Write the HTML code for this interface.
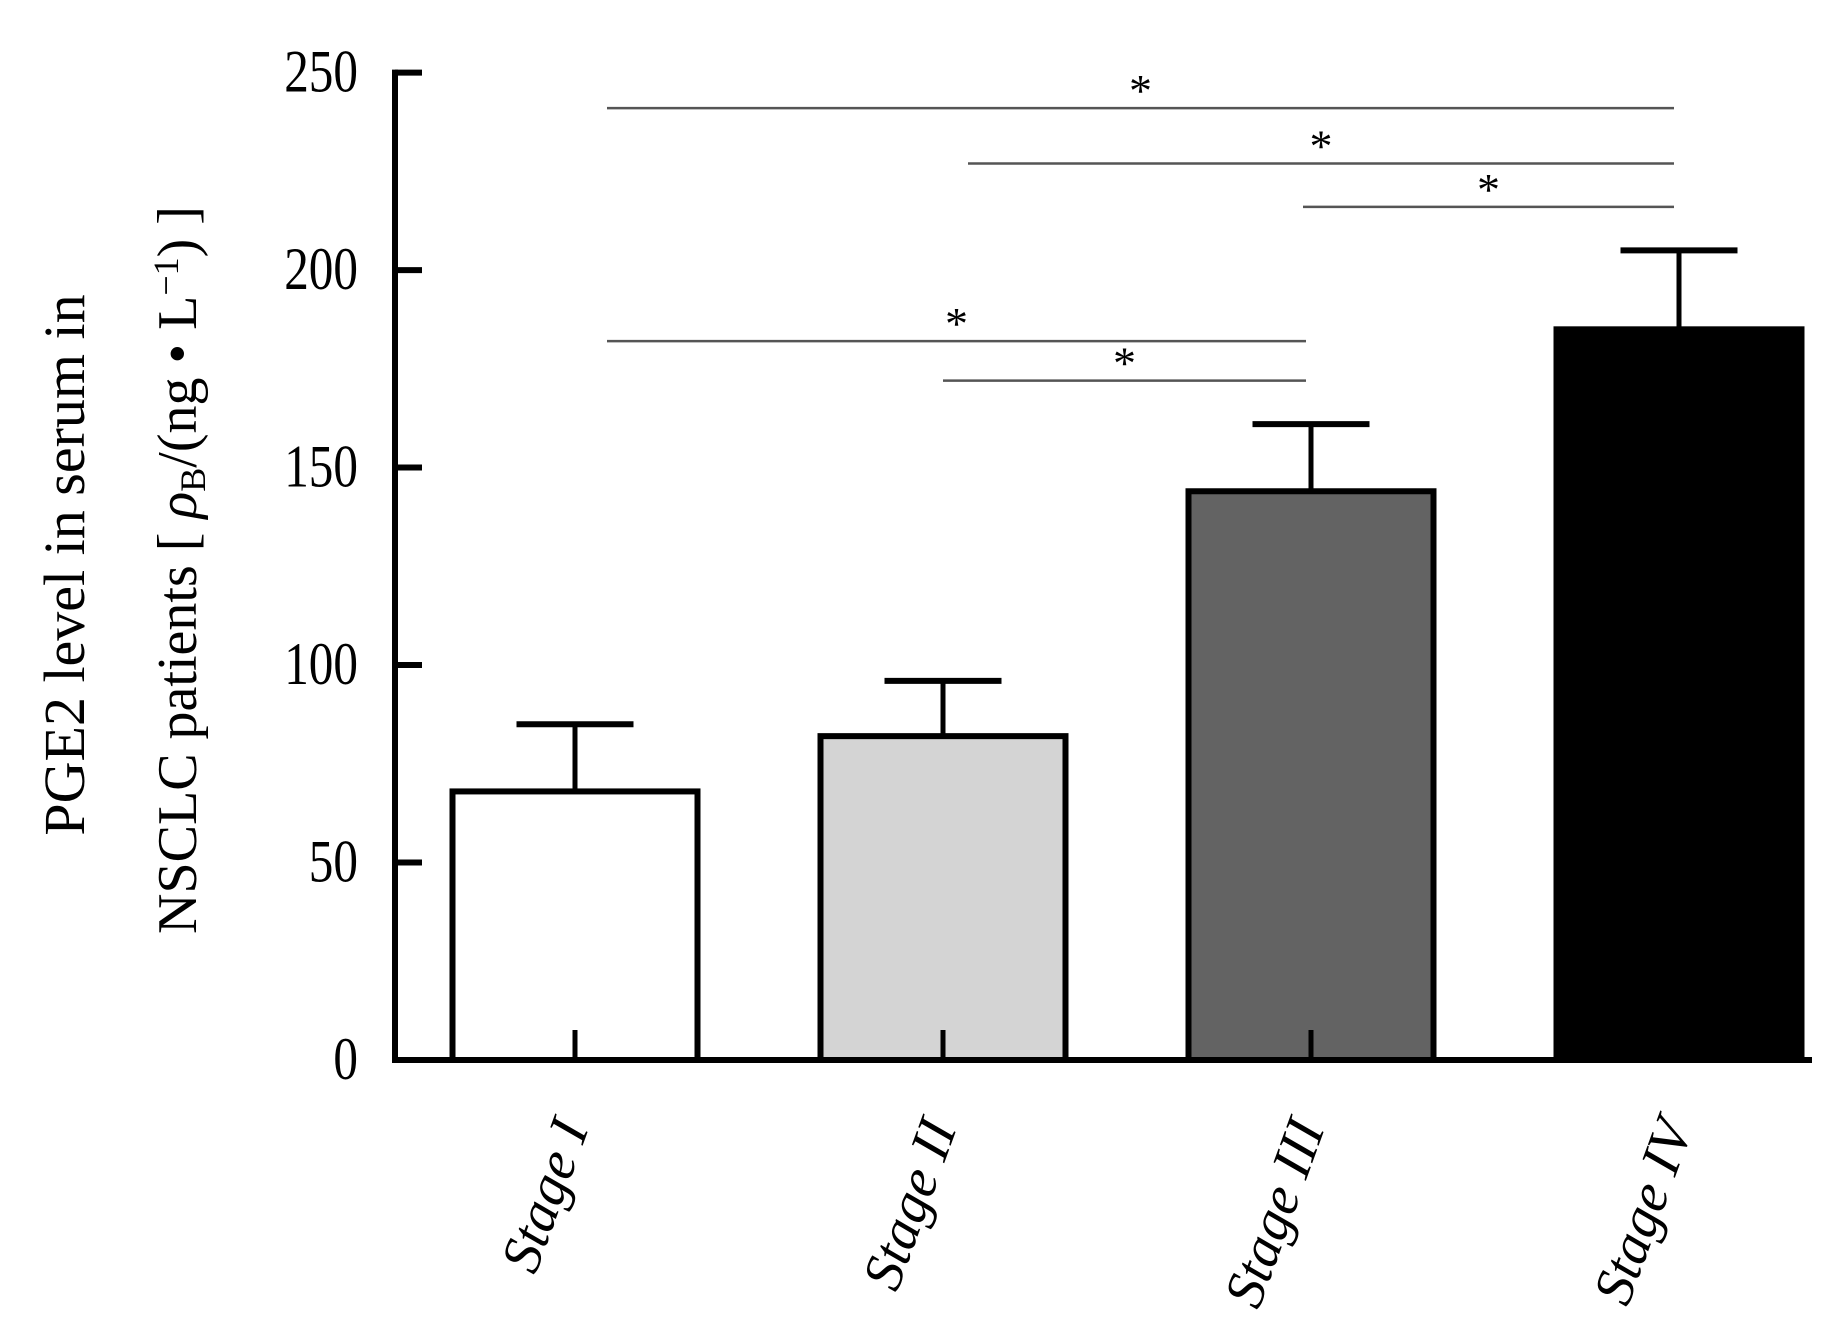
<!DOCTYPE html>
<html><head><meta charset="utf-8"><style>
html,body{margin:0;padding:0;background:#fff}
svg{display:block}
text{font-family:"Liberation Serif","Noto Serif CJK SC",serif;fill:#000}
</style></head><body>
<svg id="chart" width="1831" height="1337" viewBox="0 0 1831 1337" xmlns="http://www.w3.org/2000/svg"></svg>
<script>
const categories=["Stage I","Stage II","Stage III","Stage IV"];
const means=[68,82,144,185];
const errors=[85,96,161,205];
const fills=["#ffffff","#d4d4d4","#636363","#000000"];
const yTicks=[0,50,100,150,200,250];
const sigFrom=[0,1,2,0,1];
const sigTo=[3,3,3,2,2];
const sigLevel=[241,227,216,182,172];

const NS="http://www.w3.org/2000/svg";
const svg=document.getElementById('chart');
const X0=395,Y0=1060,YTOP=72.6;
const y=v=>Y0-(v/250)*(Y0-YTOP);
const xc=i=>575+i*368;
const BW=245,CAP=117;
function el(t,a,p){const e=document.createElementNS(NS,t);for(const k in a)e.setAttribute(k,a[k]);(p||svg).appendChild(e);return e;}

categories.forEach((c,i)=>{
  const g=el('g',{});
  
  
  el('line',{x1:xc(i),x2:xc(i),y1:y(means[i]),y2:y(errors[i]),stroke:'#000','stroke-width':5},g);
  el('line',{x1:xc(i)-CAP/2,x2:xc(i)+CAP/2,y1:y(errors[i]),y2:y(errors[i]),stroke:'#000','stroke-width':6},g);
  el('rect',{x:xc(i)-BW/2,y:y(means[i]),width:BW,height:Y0-y(means[i]),fill:fills[i],stroke:'#000','stroke-width':6},g);
  el('line',{x1:xc(i),x2:xc(i),y1:Y0-30,y2:Y0,stroke:'#000','stroke-width':5},g);
  const t=el('text',{x:0,y:0,'font-size':56,'font-style':'italic','text-anchor':'end',transform:`translate(${xc(i)+14},${1128}) rotate(-70)`});
  t.textContent=c;
  
  
});

const ax=el('line',{x1:X0,x2:X0,y1:YTOP-3,y2:Y0+3,stroke:'#000','stroke-width':6});


const bx=el('line',{x1:X0-3,x2:1812,y1:Y0,y2:Y0,stroke:'#000','stroke-width':6});



yTicks.forEach(v=>{
  const tk=el('line',{x1:X0,x2:X0+27,y1:y(v),y2:y(v),stroke:'#000','stroke-width':6});
  
  
  const t=el('text',{x:358,y:y(v)+19,'font-size':60,'text-anchor':'end',transform:`translate(358,0) scale(0.82,1) translate(-358,0)`});
  t.textContent=v;
  
  
});

sigLevel.forEach((lv,k)=>{
  const x1=xc(sigFrom[k])+(sigFrom[k]===0?32:(sigFrom[k]===1&&sigTo[k]===3)?25:sigFrom[k]===1?0:-8);
  const x2=xc(sigTo[k])-5;
  const l=el('line',{x1:x1,x2:x2,y1:y(lv),y2:y(lv),stroke:'#555','stroke-width':2.5});
  
  
  const s=el('text',{x:(x1+x2)/2,y:y(lv)-2,'font-size':46,'text-anchor':'middle'});
  s.textContent='*';
  
  
});
</script>
<svg style="position:absolute;left:0;top:0" width="400" height="1100">
<text font-size="58" text-anchor="middle" transform="translate(84,565) rotate(-90)" style="font-family:'Liberation Serif',serif">PGE2 level in serum in</text>
<text font-size="56" text-anchor="middle" transform="translate(196,570) rotate(-90)" style="font-family:'Liberation Serif',serif">NSCLC patients [ <tspan font-style="italic">ρ</tspan><tspan font-size="36" dy="9">B</tspan><tspan dy="-9">/(ng • L</tspan><tspan font-size="36" dy="-18">−1</tspan><tspan dy="18">) ]</tspan></text>
</svg>
</body></html>
